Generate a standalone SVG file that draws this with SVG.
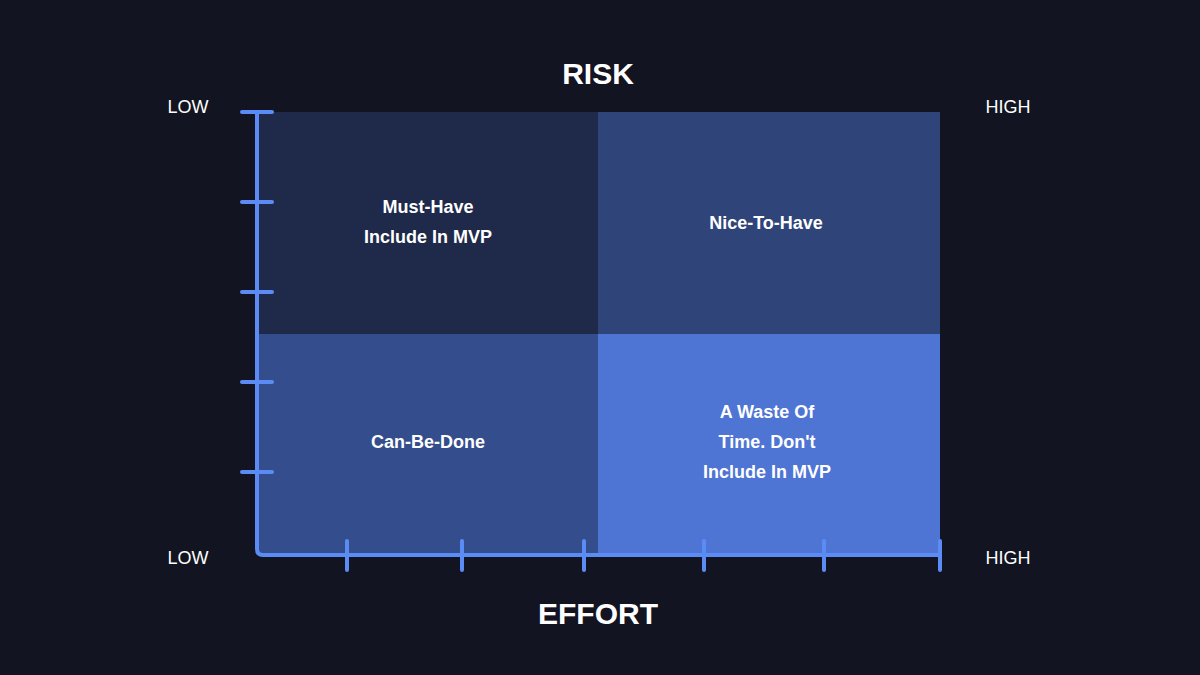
<svg xmlns="http://www.w3.org/2000/svg" width="1200" height="675" viewBox="0 0 1200 675">
<style>
.t{font-family:"Liberation Sans",Arial,sans-serif;fill:#fff;text-anchor:middle}
.q{font-size:18px;font-weight:bold}
.h{font-size:30px;font-weight:bold}
.l{font-size:18px}
.ax{stroke:#5b8cf5;stroke-width:4;fill:none;stroke-linecap:round}
</style>
<rect width="1200" height="675" fill="#121421"/>
<g id="q1"><rect x="257" y="112" width="341" height="222" fill="#1f2a4a"/><text class="t q" x="428" y="213">Must-Have</text><text class="t q" x="428" y="243">Include In MVP</text></g>
<g id="q2"><rect x="598" y="112" width="342" height="222" fill="#2f4479"/><text class="t q" x="766" y="229">Nice-To-Have</text></g>
<g id="q3"><rect x="257" y="334" width="341" height="221" fill="#344d8c"/><text class="t q" x="428" y="448">Can-Be-Done</text></g>
<g id="q4"><rect x="598" y="334" width="342" height="221" fill="#4e74d4"/><text class="t q" x="767" y="418">A Waste Of</text><text class="t q" x="767" y="448">Time. Don't</text><text class="t q" x="767" y="478">Include In MVP</text></g>
<g id="axes">
<path class="ax" d="M257 112 V549 Q257 555 263 555 H940"/>
<path class="ax" d="M242 112H272M242 202H272M242 292H272M242 382H272M242 472H272"/>
<path class="ax" d="M347 541V570M462 541V570M584 541V570M704 541V570M824 541V570M940 541V570"/>
</g>
<g id="labels">
<text class="t h" x="598" y="84">RISK</text>
<text class="t h" x="598" y="624">EFFORT</text>
<text class="t l" x="188" y="113">LOW</text>
<text class="t l" x="188" y="564">LOW</text>
<text class="t l" x="1008" y="113">HIGH</text>
<text class="t l" x="1008" y="564">HIGH</text>
</g>
</svg>
